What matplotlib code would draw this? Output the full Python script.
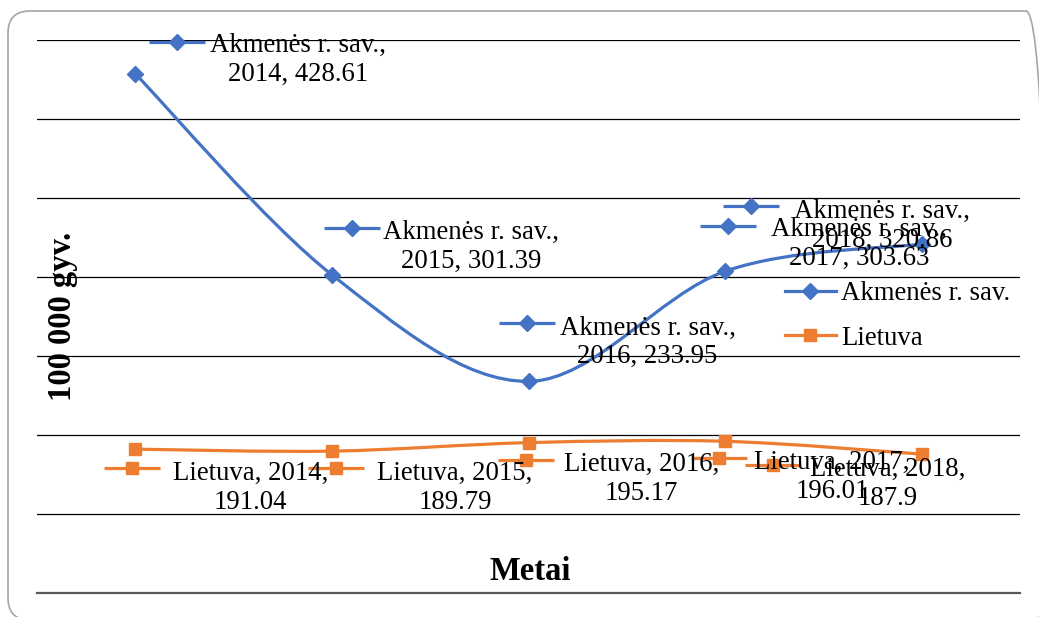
import matplotlib
matplotlib.use('Agg')
import matplotlib.pyplot as plt
import numpy as np
from matplotlib.path import Path
from matplotlib.patches import PathPatch, FancyBboxPatch
from matplotlib.lines import Line2D
from matplotlib.transforms import offset_copy, IdentityTransform

plt.rcParams['font.family'] = ['Liberation Serif', 'DejaVu Serif']

# %% data
years = ['2014', '2015', '2016', '2017', '2018']
akmenes = [428.61, 301.39, 233.95, 303.63, 320.86]
lietuva = [191.04, 189.79, 195.17, 196.01, 187.9]
series_names = ['Akmenės r. sav.', 'Lietuva']

# label placement (pixels, relative to the point): text centre and key centre
akm_text_off = [(163, 14), (139, 28), (119, 39), (134, 27), (-40, 18)]
akm_key_off = [(42, 32), (20, 47), (-2, 58), (3, 45), (-171, 38)]
lt_text_off = [(115, -39), (123, -37), (113, -36), (107, -36), (-34, -30)]
lt_key_off = [(-3, -19), (4, -17), (-3, -17), (-6, -17), (-149, -11)]

blue = '#4472C4'
orange = '#ED7D31'
lw = 2.3
lab_fs = 19.3
title_fs = 23.5


def smooth_path(xs, ys):
    """Excel-like smoothed line: cubic bezier through the points."""
    pts = np.column_stack([xs, ys]).astype(float)
    n = len(pts)
    verts = [pts[0]]
    codes = [Path.MOVETO]
    for i in range(n - 1):
        p0 = pts[i - 1] if i > 0 else pts[i]
        p1 = pts[i]
        p2 = pts[i + 1]
        p3 = pts[i + 2] if i + 2 < n else pts[i + 1]
        verts += [p1 + (p2 - p0) / 6, p2 - (p3 - p1) / 6, p2]
        codes += [Path.CURVE4] * 3
    return Path(verts, codes)


fig = plt.figure(figsize=(10.39, 6.17), dpi=100)
ax = fig.add_axes([37 / 1039, 1 - 593 / 617, (1020 - 37) / 1039, (593 - 40) / 617])

x = np.arange(len(years))
ax.set_xlim(-0.5, len(years) - 0.5)
ax.set_ylim(100, 450)
ax.set_yticks(np.arange(150, 451, 50))
ax.set_xticks(x)
ax.tick_params(left=False, bottom=False, labelleft=False, labelbottom=False)
ax.yaxis.grid(True, color='black', lw=0.9)
ax.set_axisbelow(True)
for s in ['top', 'left', 'right']:
    ax.spines[s].set_visible(False)
ax.spines['bottom'].set_color('#595959')
ax.spines['bottom'].set_linewidth(1.6)

# label text: Excel wraps the two series differently
fmt_akm = '{n},\n{y}, {v:g}'
fmt_lt = '{n}, {y},\n{v:g}'

specs = [(akmenes, blue, 'D', 8, akm_text_off, akm_key_off, fmt_akm),
         (lietuva, orange, 's', 9, lt_text_off, lt_key_off, fmt_lt)]
handles = []
for (vals, c, mk, ms, toffs, koffs, fmt), name in zip(specs, series_names):
    ax.add_patch(PathPatch(smooth_path(x, vals), fc='none', ec=c, lw=lw,
                           capstyle='round', zorder=3))
    ax.plot(x, vals, ls='none', marker=mk, ms=ms, color=c, zorder=4)
    handles.append(Line2D([], [], color=c, lw=lw, marker=mk, ms=ms))
    for xi, v, yr, (tx, ty), (kx, ky) in zip(x, vals, years, toffs, koffs):
        tr = offset_copy(ax.transData, fig=fig, x=kx, y=ky, units='dots')
        ax.plot(xi, v, marker='_', ms=40, mew=lw, color=c, transform=tr,
                clip_on=False, zorder=5)
        ax.plot(xi, v, marker=mk, ms=ms, color=c, transform=tr,
                clip_on=False, zorder=5)
        ax.annotate(fmt.format(n=name, y=yr, v=v), (xi, v), xytext=(tx, ty),
                    textcoords='offset pixels', ha='center', va='center',
                    fontsize=lab_fs, linespacing=1.2, zorder=6,
                    annotation_clip=False)

fig.legend(handles, series_names, loc='center left', frameon=False,
           bbox_to_anchor=(785 / 1039, 1 - 316 / 617), borderpad=0,
           borderaxespad=0, handlelength=1.9, handletextpad=0.2,
           labelspacing=0.72, fontsize=lab_fs)

fig.text(530 / 1039, 1 - 572 / 617, 'Metai', ha='center', va='center',
         fontsize=title_fs, fontweight='bold')
fig.text(62 / 1039, 1 - 316 / 617, '100 000 gyv.', ha='center', va='center',
         rotation=90, fontsize=title_fs, fontweight='bold')

# rounded chart border
fig.patches.append(FancyBboxPatch((8, -3), 1040, 609,
                                  boxstyle='round,pad=0,rounding_size=22',
                                  transform=IdentityTransform(), fc='none',
                                  ec='#A6A6A6', lw=1.2))

fig.savefig('out.png', dpi=100)
